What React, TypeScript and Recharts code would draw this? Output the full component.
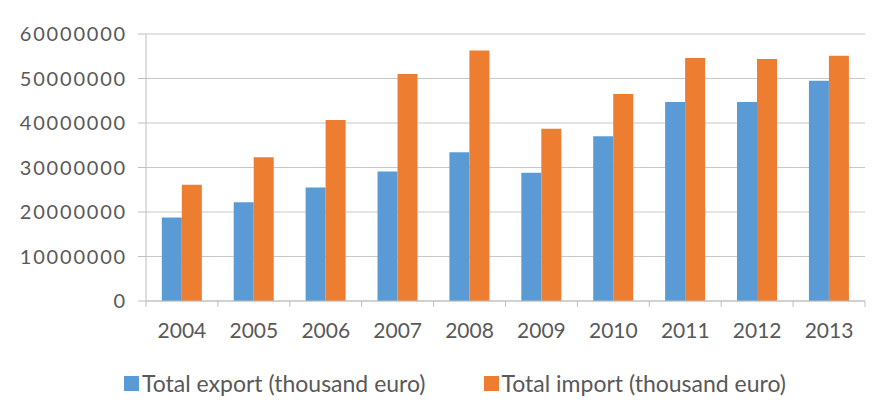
import React from 'react';
import { BarChart, Bar, XAxis, YAxis, CartesianGrid, Legend } from 'recharts';

const years = ['2004', '2005', '2006', '2007', '2008', '2009', '2010', '2011', '2012', '2013'];
const totalExport = [18750000, 22200000, 25500000, 29100000, 33400000, 28800000, 37000000, 44700000, 44700000, 49500000];
const totalImport = [26100000, 32300000, 40700000, 51000000, 56300000, 38700000, 46500000, 54600000, 54400000, 55100000];
const yTicks = [0, 10000000, 20000000, 30000000, 40000000, 50000000, 60000000];
const seriesNames = ['Total export (thousand euro)', 'Total import (thousand euro)'];

const data = years.map((y, i) => ({ year: y, exp: totalExport[i], imp: totalImport[i] }));

const FONT = 'Lato, "Open Sans", sans-serif';
const TEXT = '#595959';
const BLUE = '#5B9BD5';
const ORANGE = '#ED7D31';
const AXIS = '#bfbfbf';

const XTick = (props: any) => {
  const { x, y, payload, index, visibleTicksCount } = props;
  const off = payload && payload.offset ? payload.offset : 0;
  const axisY = y - 22;
  const last = index === visibleTicksCount - 1;
  return (
    <g>
      <line x1={x - off} x2={x - off} y1={axisY} y2={axisY + 6} stroke={AXIS} />
      {last && <line x1={x + off} x2={x + off} y1={axisY} y2={axisY + 6} stroke={AXIS} />}
      <text x={x} y={y} dy="0.71em" textAnchor="middle" fill={TEXT} fontFamily={FONT} fontSize={21}>
        {payload.value}
      </text>
    </g>
  );
};

const LegendContent = (props: any) => {
  const { payload } = props;
  return (
    <div style={{ display: 'flex', justifyContent: 'center', paddingLeft: 24, fontFamily: FONT, fontSize: 23, color: TEXT, lineHeight: '26px' }}>
      {(payload || []).map((p: any, i: number) => (
        <div key={i} style={{ display: 'flex', alignItems: 'center', marginRight: i === 0 ? 58 : 0 }}>
          <span style={{ display: 'inline-block', width: 15, height: 15, background: p.color, marginRight: 3 }} />
          <span>{p.value}</span>
        </div>
      ))}
    </div>
  );
};

export default function App() {
  return (
    <div style={{ position: 'relative', width: 871, height: 405, marginLeft: -1, marginTop: -1, borderTop: '1px solid #c8c8c8', borderLeft: '1px solid #c8c8c8' }}>
      <BarChart width={870} height={404} data={data} margin={{ top: 26, right: 13, left: 0, bottom: 0 }} barCategoryGap="22%" barGap={0}>
        <CartesianGrid vertical={false} stroke="#c8c8c8" />
        <XAxis dataKey="year" tickLine={false} tickSize={0} tickMargin={22} height={85} axisLine={{ stroke: AXIS }} tick={<XTick />} interval={0} />
        <YAxis width={138} domain={[0, 60000000]} ticks={yTicks} tickSize={8} tickMargin={11} axisLine={{ stroke: AXIS }} tickLine={{ stroke: AXIS }} tick={{ fill: TEXT, fontFamily: FONT, fontSize: 20, letterSpacing: 1.8 }} interval={0} />
        <Legend content={<LegendContent />} wrapperStyle={{ left: 0, width: 870, top: 362 }} />
        <Bar dataKey="exp" name={seriesNames[0]} fill={BLUE} isAnimationActive={false} />
        <Bar dataKey="imp" name={seriesNames[1]} fill={ORANGE} isAnimationActive={false} />
      </BarChart>
    </div>
  );
}
